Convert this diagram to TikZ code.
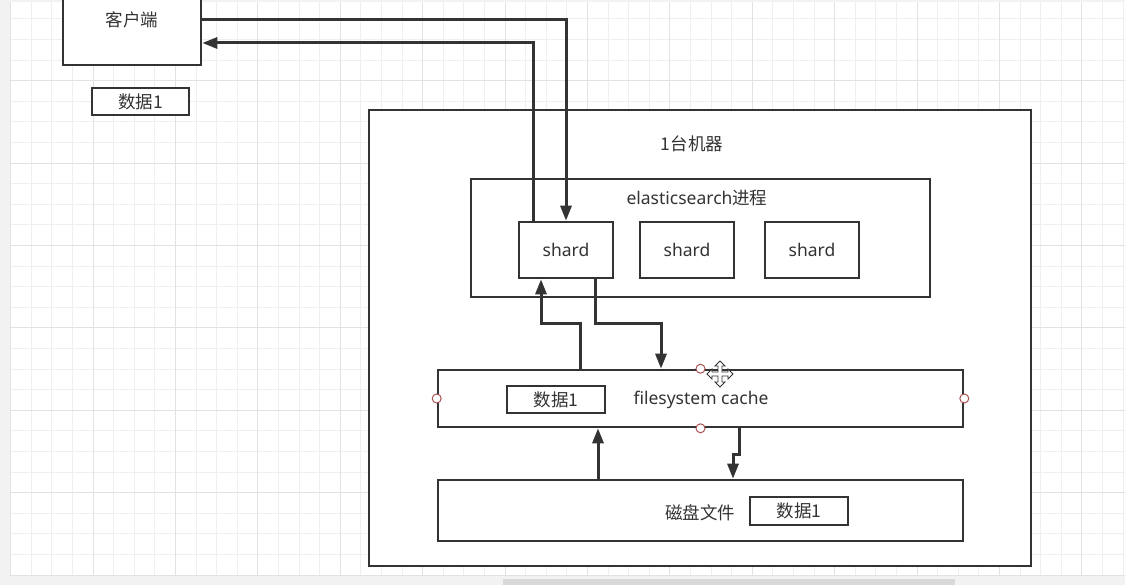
\documentclass[tikz,border=0pt]{standalone}
\usepackage{fontspec}
\setmainfont{Noto Sans}
\newfontfamily\cjk{Noto Sans CJK SC}
\usetikzlibrary{arrows.meta}

\definecolor{ink}{HTML}{333333}
\definecolor{gridminor}{HTML}{EFEFEF}
\definecolor{gridmajor}{HTML}{E2E2E2}

\begin{document}
\begin{tikzpicture}[
  x=1pt, y=-1pt,
  font=\fontsize{17.5}{20}\selectfont,
  text=ink,
  box/.style={draw=ink, line width=2.6pt, fill=white, inner sep=0pt},
  tag/.style={draw=ink, line width=2.6pt, fill=white, inner sep=0pt, minimum width=97pt, minimum height=27pt},
  label/.style={inner sep=0pt},
  arrow/.style={-{Triangle[length=15pt,width=11pt]}, line width=3pt, draw=ink},
  handle/.style={circle, draw=red!35!gray, fill=white, line width=1pt, minimum size=9pt, inner sep=0pt}
]
\useasboundingbox (0,0) rectangle (1125,585);

% canvas with grid
\fill[gray!10] (0,0) rectangle (1125,585);
\fill[white] (10,2) rectangle (1125,575);
\foreach \i in {0,...,54}
  \draw[gridminor, line width=0.8pt] ({10.6+20.6*\i},2) -- ({10.6+20.6*\i},575);
\foreach \i in {0,...,27}
  \draw[gridminor, line width=0.8pt] (10,{575-20.6*\i}) -- (1125,{575-20.6*\i});
\foreach \i in {0,...,13}
  \draw[gridmajor, line width=0.9pt] ({10.6+82.4*\i},2) -- ({10.6+82.4*\i},575);
\foreach \i in {0,...,6}
  \draw[gridmajor, line width=0.9pt] (10,{575-82.4*\i}) -- (1125,{575-82.4*\i});
\fill[gray!30] (503,579) rectangle (955,585);

% client side
\node[box, minimum width=138pt, minimum height=90pt] (client) at (132,20) {\cjk 客户端};
\node[tag] (data0) at (140.5,101.5) {\cjk 数据1};

% machine
\node[box, minimum width=662pt, minimum height=456pt] (machine) at (700,338) {};
\node[label] (machinelabel) at (692,144) {\cjk 1台机器};

\node[box, minimum width=459pt, minimum height=118pt] (esproc) at (700.5,238) {};
\node[label] (eslabel) at (697,198) {elasticsearch{\cjk 进程}};
\node[box, minimum width=94pt, minimum height=56pt] (shard1) at (566,250) {shard};
\node[box, minimum width=94pt, minimum height=56pt] (shard2) at (687,250) {shard};
\node[box, minimum width=94pt, minimum height=56pt] (shard3) at (812,250) {shard};

\node[box, minimum width=525pt, minimum height=57pt] (cache) at (700.5,398.5) {};
\node[label] (cachelabel) at (701,400) {filesystem cache};
\node[tag, minimum width=98pt] (data1) at (556,399.5) {\cjk 数据1};

\node[box, minimum width=525pt, minimum height=61pt] (disk) at (700.5,510.5) {};
\node[label] (disklabel) at (700,513) {\cjk 磁盘文件};
\node[tag, minimum width=98pt, minimum height=28pt] (data2) at (799,511) {\cjk 数据1};

% connectors
\draw[arrow] (client.east) -| (shard1.north);
\draw[arrow] ([xshift=-33pt]shard1.north) |- ([yshift=-23pt]client.east);
\draw[arrow] ([xshift=-120.5pt]cache.north) -- ++(0,-45) -| ([xshift=-25pt]shard1.south);
\draw[arrow] ([xshift=29pt]shard1.south) -- ++(0,44) -| ([xshift=-39.5pt]cache.north);
\draw[arrow] ([xshift=-102.5pt]disk.north) -- ([xshift=-102.5pt]cache.south);
\draw[arrow] ([xshift=38.5pt]cache.south) -- ++(0,26) -| ([xshift=32.5pt]disk.north);

% selection handles and cursor
\node[handle] (hn) at (cache.north) {};
\node[handle] (hs) at (cache.south) {};
\node[handle] (hw) at (cache.west) {};
\node[handle] (he) at (cache.east) {};
\draw[ink, fill=white, line width=0.9pt, shift={(720,374)}]
  (0,-13) -- (5,-8) -- (2,-8) -- (2,-2) -- (8,-2) -- (8,-5) -- (13,0) -- (8,5) -- (8,2)
  -- (2,2) -- (2,8) -- (5,8) -- (0,13) -- (-5,8) -- (-2,8) -- (-2,2) -- (-8,2) -- (-8,5)
  -- (-13,0) -- (-8,-5) -- (-8,-2) -- (-2,-2) -- (-2,-8) -- (-5,-8) -- cycle;

\end{tikzpicture}
\end{document}
